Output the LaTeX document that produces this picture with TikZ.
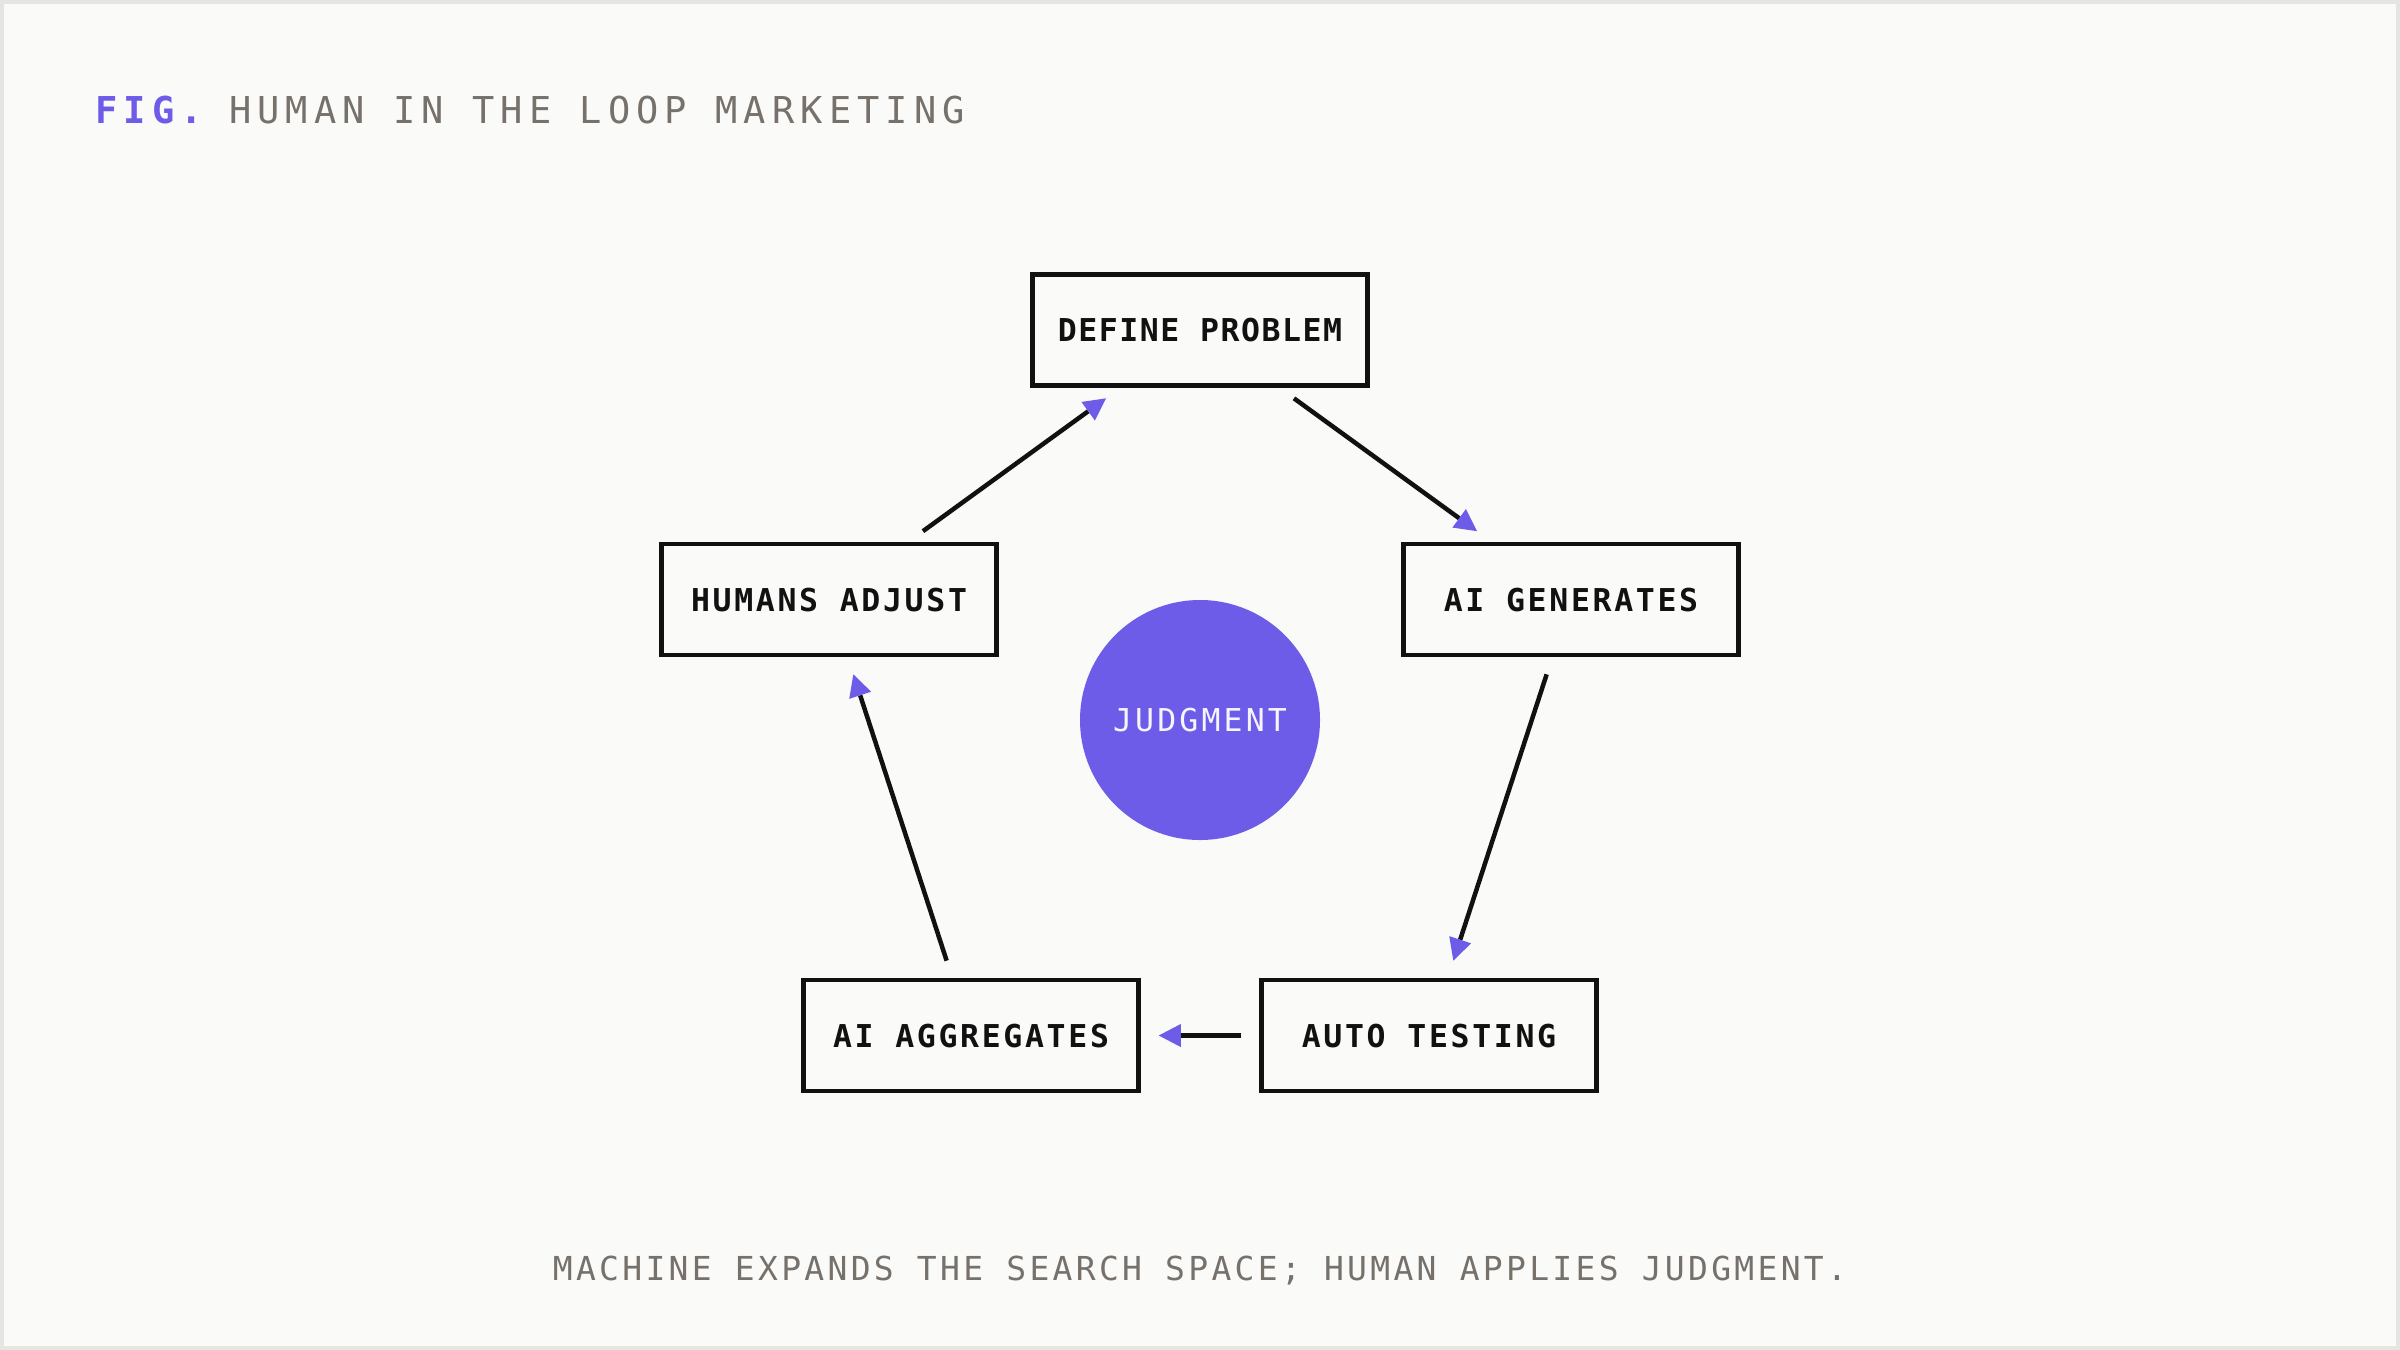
\documentclass[tikz,border=0pt]{standalone}
\usepackage{fontspec}
\usetikzlibrary{arrows.meta}
\definecolor{bg}{HTML}{FAFAF8}
\definecolor{frame}{HTML}{E6E5E2}
\definecolor{jpurple}{HTML}{6C5CE7}
\definecolor{muted}{HTML}{77716B}
\definecolor{ink}{HTML}{111111}
\definecolor{softwhite}{HTML}{F6F4FF}
\newfontfamily\titlefont[LetterSpace=16.5]{DejaVu Sans Mono}
\newfontfamily\boxfont[LetterSpace=5]{DejaVu Sans Mono}
\newfontfamily\boxwidefont[LetterSpace=8.5]{DejaVu Sans Mono}
\newfontfamily\judgfont[LetterSpace=10]{DejaVu Sans Mono}
\newfontfamily\capfont[LetterSpace=10]{DejaVu Sans Mono}
\tikzset{
  stepbox/.style={draw=ink, line width=2.25pt, fill=bg, minimum width=167.5pt,
    minimum height=55.5pt, inner sep=0pt, text=ink,
    font={\boxwidefont\bfseries\fontsize{15.75pt}{18pt}\selectfont},
    text height=11.5pt, text depth=0pt},
  conn/.style={draw=ink, line width=2.25pt, shorten <=9pt, shorten >=9pt,
    -{Triangle[length=11pt,width=11.5pt,color=jpurple,line width=0pt]}},
}
\begin{document}
\begin{tikzpicture}[x=0.5pt,y=-0.5pt]
\useasboundingbox (0,0) rectangle (2400,1350);
\fill[bg] (0,0) rectangle (2400,1350);
\draw[frame, line width=2pt] (2,2) rectangle (2398,1348);

\node[anchor=base west, inner sep=0pt, font={\titlefont\fontsize{18.5pt}{22pt}\selectfont}] (title) at (95,123)
  {\textcolor{jpurple}{\bfseries FIG.}\hspace{-1pt} \textcolor{muted}{HUMAN IN THE LOOP MARKETING}};

\node[stepbox, font={\boxfont\bfseries\fontsize{15.75pt}{18pt}\selectfont}] (define) at (1200,330) {DEFINE PROBLEM};
\node[stepbox] (adjust) at (829,599.5) {HUMANS ADJUST};
\node[stepbox] (gen) at (1571,599.5) {AI GENERATES};
\node[stepbox] (agg) at (971,1035.5) {AI AGGREGATES};
\node[stepbox] (test) at (1429,1035.5) {AUTO TESTING};

\node[circle, fill=jpurple, minimum size=120pt, inner sep=0pt, text=softwhite,
  font={\judgfont\fontsize{15.75pt}{18pt}\selectfont}, text height=11.5pt, text depth=0pt]
  (judg) at (1200,720) {JUDGMENT};

\draw[conn] (define) -- (gen);
\draw[conn] (gen) -- (test);
\draw[conn] (test) -- (agg);
\draw[conn] (agg) -- (adjust);
\draw[conn] (adjust) -- (define);

\node[anchor=base, inner sep=0pt, text=muted, font={\capfont\fontsize{16.5pt}{20pt}\selectfont}] (caption) at (1200,1280)
  {MACHINE EXPANDS THE SEARCH SPACE; HUMAN APPLIES JUDGMENT.};
\end{tikzpicture}
\end{document}
